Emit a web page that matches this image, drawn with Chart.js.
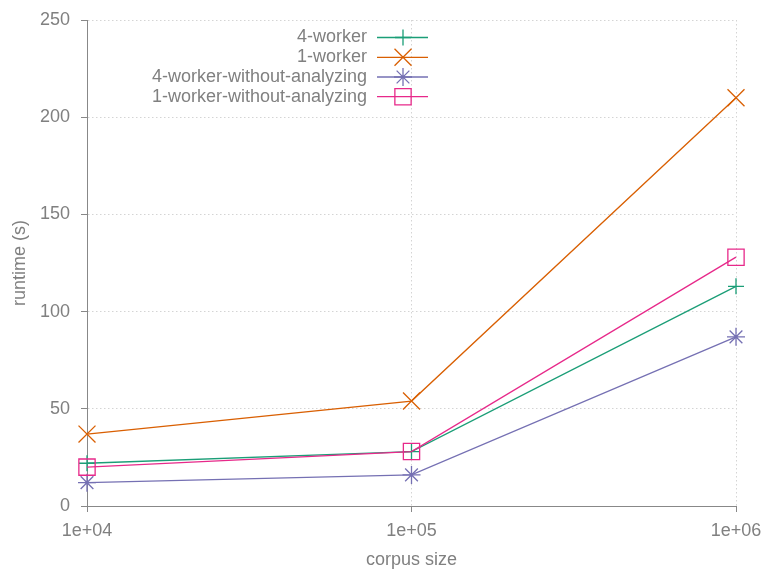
<!DOCTYPE html>
<html>
<head>
<meta charset="utf-8">
<script src="https://cdn.jsdelivr.net/npm/chart.js@4/dist/chart.umd.min.js"></script>
<style>
  html, body { margin: 0; padding: 0; background: #ffffff; }
  #wrap { width: 764px; height: 571px; }
</style>
</head>
<body>
<div id="wrap"><canvas id="c" width="764" height="571"></canvas></div>
<script>
// Corpus sizes (x) and measured runtimes in seconds (y)
const corpusSizes = [1e4, 1e5, 1e6];
const xTickLabels = ['1e+04', '1e+05', '1e+06'];
const yTicks = [0, 50, 100, 150, 200, 250];

const seriesNames = ['4-worker', '1-worker', '4-worker-without-analyzing', '1-worker-without-analyzing'];
const worker4 = [22, 28, 113];
const worker1 = [37, 54, 210];
const worker4NoAnalyze = [12, 16, 87];
const worker1NoAnalyze = [20, 28, 128];

const seriesValues = [worker4, worker1, worker4NoAnalyze, worker1NoAnalyze];
const seriesColors = ['#1b9e77', '#d95f02', '#7570b3', '#e7298a'];
const seriesMarkers = ['cross', 'crossRot', 'star', 'rect'];
const markerRadius = [8, 12, 9, 11.5];

const TEXT = '#808080';
const FONT = { family: '"Liberation Sans", Arial, sans-serif', size: 18 };

const datasets = seriesNames.map((name, i) => ({
  label: name,
  data: corpusSizes.map((x, j) => ({ x: x, y: seriesValues[i][j] })),
  borderColor: seriesColors[i],
  backgroundColor: 'rgba(0,0,0,0)',
  borderWidth: 1.3,
  pointStyle: seriesMarkers[i],
  pointRadius: markerRadius[i],
  pointHoverRadius: markerRadius[i],
  pointBorderWidth: 1.3,
  pointBorderColor: seriesColors[i],
  pointBackgroundColor: 'rgba(0,0,0,0)',
  tension: 0,
  clip: false,
  order: seriesNames.length - i
}));

// Key in the upper middle: right-aligned names followed by a line sample with its marker
const keyPlugin = {
  id: 'key',
  afterDraw(chart) {
    const ctx = chart.ctx;
    const textRight = 367, lineX1 = 377, lineX2 = 428, markX = 403;
    const rowY = [37.5, 57.3, 77, 96.7];
    ctx.save();
    ctx.font = FONT.size + 'px ' + FONT.family;
    ctx.textAlign = 'right';
    ctx.textBaseline = 'middle';
    chart.data.datasets.forEach((ds, i) => {
      const y = rowY[i];
      ctx.fillStyle = TEXT;
      ctx.fillText(ds.label, textRight, y);
      ctx.strokeStyle = ds.borderColor;
      ctx.lineWidth = ds.borderWidth;
      ctx.beginPath();
      ctx.moveTo(lineX1, y);
      ctx.lineTo(lineX2, y);
      ctx.stroke();
      ctx.fillStyle = 'rgba(0,0,0,0)';
      ctx.lineWidth = ds.pointBorderWidth;
      Chart.helpers.drawPoint(ctx, { pointStyle: ds.pointStyle, radius: ds.pointRadius, rotation: 0, borderWidth: ds.pointBorderWidth }, markX, y);
    });
    ctx.restore();
  }
};

const bgPlugin = {
  id: 'bg',
  beforeDraw(chart) {
    const ctx = chart.ctx;
    ctx.save();
    ctx.fillStyle = '#ffffff';
    ctx.fillRect(0, 0, chart.width, chart.height);
    ctx.restore();
  }
};

new Chart(document.getElementById('c'), {
  type: 'line',
  data: { datasets: datasets },
  plugins: [bgPlugin, keyPlugin],
  options: {
    responsive: false,
    animation: false,
    events: [],
    layout: { padding: { left: 0, right: 28, top: 20, bottom: 0 } },
    plugins: { legend: { display: false }, tooltip: { enabled: false } },
    scales: {
      x: {
        type: 'logarithmic',
        min: corpusSizes[0],
        max: corpusSizes[corpusSizes.length - 1],
        afterBuildTicks(scale) {
          scale.ticks = corpusSizes.map(v => ({ value: v }));
        },
        afterFit(scale) {
          scale.height = 65;
          scale.paddingLeft = 0;
          scale.paddingRight = 0;
        },
        ticks: {
          color: TEXT,
          font: FONT,
          padding: 8,
          maxRotation: 0,
          autoSkip: false,
          callback(value) {
            const k = corpusSizes.indexOf(value);
            return k >= 0 ? xTickLabels[k] : '';
          }
        },
        grid: {
          color: '#d4d4d4',
          lineWidth: 1,
          tickLength: 6,
          tickColor: '#888888',
          tickWidth: 1
        },
        border: { display: true, color: '#888888', width: 1, dash: [1.5, 2.5] },
        title: { display: true, text: 'corpus size', color: TEXT, font: FONT, padding: { top: 0, bottom: 0 } }
      },
      y: {
        type: 'linear',
        min: yTicks[0],
        max: yTicks[yTicks.length - 1],
        afterBuildTicks(scale) {
          scale.ticks = yTicks.map(v => ({ value: v }));
        },
        afterFit(scale) {
          scale.width = 87;
          scale.paddingTop = 0;
          scale.paddingBottom = 0;
        },
        ticks: { color: TEXT, font: FONT, padding: 11 },
        grid: {
          color: '#d4d4d4',
          lineWidth: 1,
          tickLength: 6,
          tickColor: '#888888',
          tickWidth: 1
        },
        border: { display: true, color: '#888888', width: 1, dash: [1.5, 2.5] },
        title: { display: true, text: 'runtime (s)', color: TEXT, font: FONT, padding: { top: 9, bottom: 0 } }
      }
    }
  }
});
</script>
</body>
</html>
